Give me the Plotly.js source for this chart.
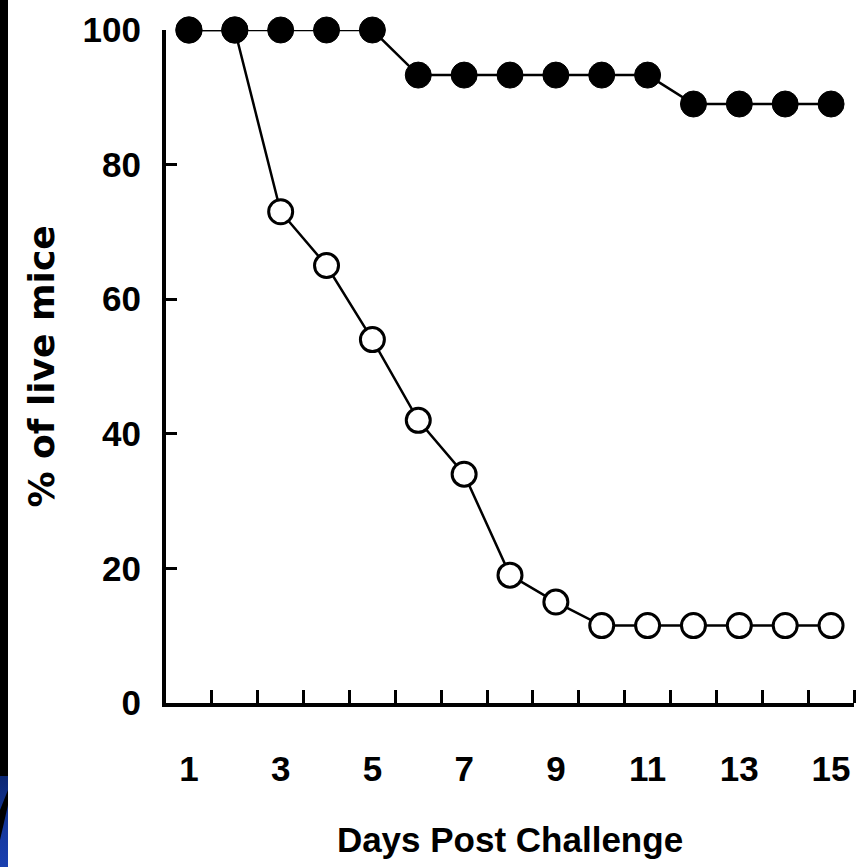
<!DOCTYPE html>
<html>
<head>
<meta charset="utf-8">
<script src="https://cdn.plot.ly/plotly-3.0.1.min.js"></script>
<style>
  html, body { margin: 0; padding: 0; background: #ffffff; }
  #wrap { position: relative; width: 862px; height: 867px; overflow: hidden; }
  #chart { position: absolute; left: 0; top: 0; width: 862px; height: 867px; }
  #strip { position: absolute; left: 0; top: 0; width: 8px; height: 867px; background: #000; z-index: 5; }
  #blue { position: absolute; left: 0; top: 776px; width: 8px; height: 91px; background: linear-gradient(180deg, #0b2672 0%, #15389f 60%, #1a40b0 100%); z-index: 6; }
  #diag { position: absolute; left: 0; top: 790px; width: 8px; height: 50px; background: #000; z-index: 7; clip-path: polygon(100% 0, 100% 30%, 0 100%, 0 40%); }
</style>
</head>
<body>
<div id="wrap">
  <div id="chart"></div>
  <div id="strip"></div>
  <div id="blue"></div>
  <div id="diag"></div>
</div>
<script>
// Days post challenge
const days = [1, 2, 3, 4, 5, 6, 7, 8, 9, 10, 11, 12, 13, 14, 15];
// Filled circles (protected group), % of live mice
const filledSeries = [100, 100, 100, 100, 100, 93.3, 93.3, 93.3, 93.3, 93.3, 93.3, 89, 89, 89, 89];
// Open circles (control group), % of live mice
const openSeries = [100, 100, 73, 65, 54, 42, 34, 19, 15, 11.5, 11.5, 11.5, 11.5, 11.5, 11.5];
// Axis tick labels
const xTickVals = [1, 3, 5, 7, 9, 11, 13, 15];
const xTickText = ['1', '3', '5', '7', '9', '11', '13', '15'];
const xMinorTicks = [1.5, 2.5, 3.5, 4.5, 5.5, 6.5, 7.5, 8.5, 9.5, 10.5, 11.5, 12.5, 13.5, 14.5, 15.5];
const yTickVals = [0, 20, 40, 60, 80, 100];

const narrow = "'Liberation Sans Narrow', 'Arial Narrow', 'Liberation Sans', Arial, sans-serif";

const traces = [
  {
    x: days, y: openSeries, type: 'scatter', mode: 'lines+markers',
    line: { color: '#000', width: 2.5 },
    marker: { symbol: 'circle', size: 24, color: '#fff', line: { color: '#000', width: 3 } },
    cliponaxis: false, hoverinfo: 'skip'
  },
  {
    x: days, y: filledSeries, type: 'scatter', mode: 'lines+markers',
    line: { color: '#000', width: 2.5 },
    marker: { symbol: 'circle', size: 26, color: '#000', line: { color: '#000', width: 1 } },
    cliponaxis: false, hoverinfo: 'skip'
  }
];

const layout = {
  width: 862, height: 867,
  margin: { l: 166, r: 8, t: 30, b: 164 },
  paper_bgcolor: '#fff', plot_bgcolor: '#fff',
  showlegend: false,
  xaxis: {
    range: [0.5, 15.5], showgrid: false, zeroline: false,
    showline: true, linecolor: '#000', linewidth: 4,
    tickmode: 'array', tickvals: xTickVals, ticktext: xTickText,
    ticks: '', ticklabelstandoff: 32,
    tickfont: { family: narrow, size: 35, color: '#000', weight: 'bold' },
    minor: { tickmode: 'array', tickvals: xMinorTicks, ticks: 'inside', ticklen: 13, tickwidth: 3, tickcolor: '#000', showgrid: false },
    title: { text: 'Days Post Challenge', standoff: 41, font: { family: narrow, size: 35, color: '#000', weight: 'bold' } }
  },
  yaxis: {
    range: [0, 100], showgrid: false, zeroline: false,
    showline: true, linecolor: '#000', linewidth: 4,
    tickmode: 'array', tickvals: yTickVals,
    ticks: 'inside', ticklen: 11, tickwidth: 3, tickcolor: '#000',
    ticklabelstandoff: 14,
    tickfont: { family: narrow, size: 35, color: '#000', weight: 'bold' },
    title: { text: '% of live mice', standoff: 18, font: { family: "'DejaVu Sans', Verdana, sans-serif", size: 36, color: '#000', weight: 'bold' } }
  }
};

Plotly.newPlot('chart', traces, layout, { staticPlot: true, displayModeBar: false });
</script>
</body>
</html>
